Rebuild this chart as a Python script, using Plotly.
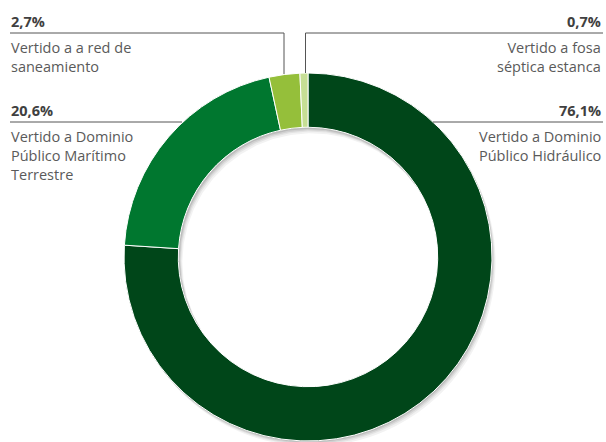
import math
import plotly.graph_objects as go

# Data
categories = ["Vertido a Dominio Público Hidráulico",
              "Vertido a Dominio Público Marítimo Terrestre",
              "Vertido a a red de saneamiento",
              "Vertido a fosa séptica estanca"]
values = [76.1, 20.6, 2.7, 0.7]
pct_labels = ["76,1%", "20,6%", "2,7%", "0,7%"]
label_texts = ["Vertido a Dominio<br>Público Hidráulico",
               "Vertido a Dominio<br>Público Marítimo<br>Terrestre",
               "Vertido a a red de<br>saneamiento",
               "Vertido a fosa<br>séptica estanca"]
colors = ["#004619", "#00772F", "#95BF3A", "#C6DE95"]

W, H = 606, 442
def px(x):
    return x / W
def py(y):
    return 1 - y / H

cx, cy, R = 308, 257, 184
HOLE = 0.705
r_in = R * HOLE

fig = go.Figure(go.Pie(
    labels=categories, values=values, hole=HOLE, sort=False,
    direction="clockwise", rotation=0,
    marker=dict(colors=colors, line=dict(color="white", width=1)),
    textinfo="none", hoverinfo="label+percent", showlegend=False,
    domain=dict(x=[px(cx - R), px(cx + R)], y=[py(cy + R), py(cy - R)]),
))

shapes = []

# soft drop shadow (decoration): crescent = circle A minus circle B
def crescent(ax, ay, bx, by, r, n=90):
    vx, vy = bx - ax, by - ay
    d = math.hypot(vx, vy)
    tv = math.atan2(vy, vx)
    b = math.acos(d / (2 * r))
    pts = []
    for k in range(n + 1):
        t = tv + b + (2 * math.pi - 2 * b) * k / n
        pts.append((ax + r * math.cos(t), ay + r * math.sin(t)))
    for k in range(n // 4 + 1):
        t = tv + math.pi + b - (2 * b) * k / (n // 4)
        pts.append((bx + r * math.cos(t), by + r * math.sin(t)))
    path = "M " + " L ".join(f"{px(x):.5f},{py(y):.5f}" for x, y in pts) + " Z"
    return path

ux, uy = 0.55, 0.835
for d, op in [(1.5, 0.10), (3, 0.08), (4.5, 0.06), (6.5, 0.05)]:
    # inner shadow inside the hole
    shapes.append(dict(type="path", xref="paper", yref="paper", layer="above",
                       path=crescent(cx, cy, cx + d * ux, cy + d * uy, r_in - 0.5),
                       fillcolor=f"rgba(0,0,0,{op})", line=dict(width=0)))
    # outer shadow outside the ring
    shapes.append(dict(type="path", xref="paper", yref="paper", layer="below",
                       path=crescent(cx + d * ux, cy + d * uy, cx, cy, R),
                       fillcolor=f"rgba(0,0,0,{op})", line=dict(width=0)))

line_col = "#555555"
def seg(x0, y0, x1, y1):
    shapes.append(dict(type="line", xref="paper", yref="paper",
                       x0=px(x0), y0=py(y0), x1=px(x1), y1=py(y1),
                       line=dict(color=line_col, width=1)))

# leader lines
seg(10, 33, 284, 33); seg(284, 33, 284, 74)
seg(305.5, 33, 603, 33); seg(305.5, 33, 305.5, 73)
seg(10, 122, 182, 122)
seg(433, 122, 603, 122)

annotations = []
def ann(text, x, y, anchor, bold=False):
    annotations.append(dict(
        text=text, xref="paper", yref="paper", x=px(x), y=py(y),
        xanchor=anchor, yanchor="top", showarrow=False, align=anchor,
        font=dict(family="Open Sans", size=14.5,
                  color="#404040" if bold else "#5a5a5a"),
    ))

pos = {
    0: ("right", 603, 99, 125),
    1: ("left", 9, 99, 125),
    2: ("left", 9, 10, 36),
    3: ("right", 603, 10, 36),
}
for i in range(4):
    anchor, x, yp, yt = pos[i]
    ann("<b>" + pct_labels[i] + "</b>", x, yp, anchor, bold=True)
    ann(label_texts[i], x, yt, anchor)

fig.update_layout(
    width=W, height=H, margin=dict(l=0, r=0, t=0, b=0),
    paper_bgcolor="white", plot_bgcolor="white",
    shapes=shapes, annotations=annotations,
)
fig.write_html("out.html")
